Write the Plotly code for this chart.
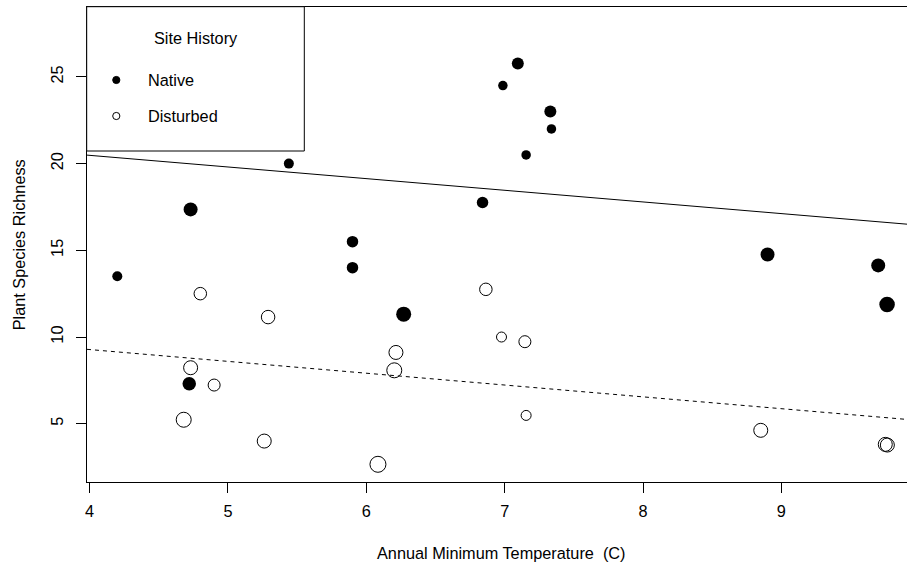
import plotly.graph_objects as go

# ---------------- data ----------------
native_temp = [4.20, 4.73, 5.44, 6.84, 5.90, 5.90, 6.27, 4.72, 7.155, 7.095, 6.987, 7.33, 7.338, 8.90, 9.70, 9.764]
native_rich = [13.5, 17.36, 20.0, 17.76, 15.5, 14.0, 11.32, 7.31, 20.5, 25.77, 24.5, 23.0, 22.0, 14.76, 14.13, 11.88]
native_cex = [1.0, 1.4, 1.0, 1.15, 1.15, 1.15, 1.5, 1.35, 0.95, 1.2, 0.95, 1.2, 0.95, 1.4, 1.4, 1.55]

disturbed_temp = [4.80, 5.29, 6.864, 6.977, 7.146, 6.214, 6.202, 4.73, 4.90, 4.68, 5.262, 6.084, 7.155, 8.851, 9.751, 9.766]
disturbed_rich = [12.5, 11.15, 12.75, 10.0, 9.73, 9.11, 8.08, 8.23, 7.23, 5.23, 4.0, 2.66, 5.48, 4.62, 3.81, 3.77]
disturbed_cex = [1.25, 1.35, 1.25, 1.0, 1.2, 1.4, 1.5, 1.4, 1.2, 1.5, 1.4, 1.6, 1.0, 1.4, 1.4, 1.4]

# fitted lines: (intercept, slope)
native_fit = (23.165, -0.672)
disturbed_fit = (12.005, -0.682)

x_ticks = [4, 5, 6, 7, 8, 9]
y_ticks = [5, 10, 15, 20, 25]
x_title = "Annual Minimum Temperature  (C)"
y_title = "Plant Species Richness"
legend_title = "Site History"
legend_labels = ["Native", "Disturbed"]

# ---------------- style ----------------
W, H = 907, 565
ML, MR, MT, MB = 87, 0, 7, 83
PW, PH = W - ML - MR, H - MT - MB
x_range = [3.981, 9.908]
y_range = [1.64, 29.03]
BASE = 10  # px diameter per cex unit
FONT = dict(family="Liberation Sans, Arial, Helvetica, sans-serif", size=16.3, color="black")

fig = go.Figure()

# regression lines
for (a, b), dash in [(native_fit, "solid"), (disturbed_fit, "4px,4px")]:
    xs = list(x_range)
    ys = [a + b * v for v in xs]
    fig.add_trace(go.Scatter(x=xs, y=ys, mode="lines",
                             line=dict(color="black", width=1, dash=dash),
                             hoverinfo="skip", showlegend=False))

fig.add_trace(go.Scatter(
    x=native_temp, y=native_rich, mode="markers", name=legend_labels[0],
    marker=dict(symbol="circle", color="black", opacity=1,
                size=[c * BASE for c in native_cex], line=dict(width=0)),
    showlegend=False))
fig.add_trace(go.Scatter(
    x=disturbed_temp, y=disturbed_rich, mode="markers", name=legend_labels[1],
    marker=dict(symbol="circle-open", color="black", opacity=1,
                size=[c * BASE for c in disturbed_cex],
                line=dict(width=1, color="black")),
    showlegend=False))

axis_common = dict(showgrid=False, zeroline=False, showline=True, linecolor="black",
                   linewidth=1, ticks="outside", ticklen=10, tickcolor="black",
                   tickwidth=1, tickfont=FONT)
fig.update_xaxes(range=x_range, tickvals=x_ticks, ticktext=[str(t) for t in x_ticks],
                 mirror=True, ticklabelstandoff=4, **axis_common)
fig.update_yaxes(range=y_range, tickvals=y_ticks, ticktext=[str(t) for t in y_ticks],
                 tickangle=-90, mirror=False, ticklabelstandoff=6, **axis_common)

# legend box (manual, matching base-R legend)
def px_x(p):
    return (p - ML) / PW

def px_y(p):
    return 1 - (p - MT) / PH

shapes = [dict(type="rect", xref="paper", yref="paper",
               x0=px_x(86.7), x1=px_x(304.3), y0=px_y(151), y1=px_y(6.7),
               line=dict(color="black", width=1), fillcolor="white", layer="above")]
r = 3.6
for i, cy in enumerate([80, 116]):
    shapes.append(dict(type="circle", xref="paper", yref="paper",
                       x0=px_x(116.3 - r), x1=px_x(116.3 + r),
                       y0=px_y(cy + r), y1=px_y(cy - r),
                       fillcolor="black" if i == 0 else "white",
                       line=dict(color="black", width=1), layer="above"))

annotations = [
    dict(text=legend_title, xref="paper", yref="paper", x=px_x(195.5), y=px_y(38),
         xanchor="center", yanchor="middle", showarrow=False, font=FONT),
    dict(text=legend_labels[0], xref="paper", yref="paper", x=px_x(146), y=px_y(80),
         xanchor="left", yanchor="middle", showarrow=False, font=FONT),
    dict(text=legend_labels[1], xref="paper", yref="paper", x=px_x(146), y=px_y(116),
         xanchor="left", yanchor="middle", showarrow=False, font=FONT),
    dict(text=x_title, xref="paper", yref="paper", x=px_x(501.5), y=0,
         xanchor="center", yanchor="middle", yshift=-(553 - 482), showarrow=False, font=FONT),
    dict(text=y_title, xref="paper", yref="paper", x=0, y=0.5, textangle=-90,
         xanchor="center", yanchor="middle", xshift=-(86.7 - 18.5), showarrow=False, font=FONT),
]

fig.update_layout(width=W, height=H, margin=dict(l=ML, r=MR, t=MT, b=MB, pad=0),
                  plot_bgcolor="white", paper_bgcolor="white", font=FONT,
                  shapes=shapes, annotations=annotations, showlegend=False)

fig.write_html("out.html", config={"displayModeBar": False},
               post_script="document.body.style.margin='0';document.body.style.padding='0';"
                           "document.body.style.overflow='hidden';")
